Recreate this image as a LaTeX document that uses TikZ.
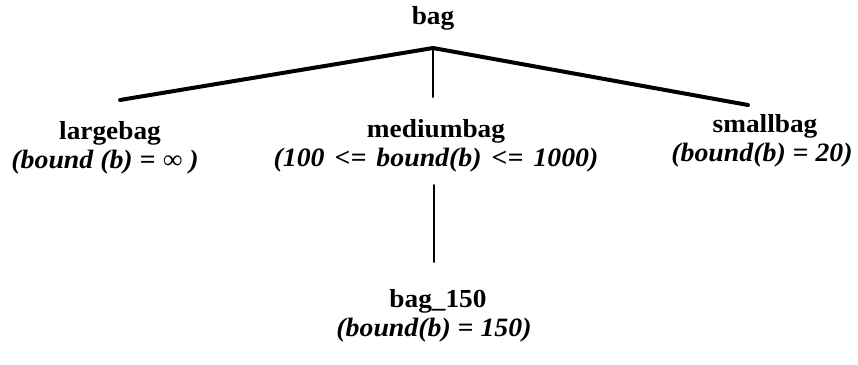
\documentclass[tikz,border=0pt]{standalone}
\usepackage{fontspec}
\setmainfont{Liberation Serif}[FakeStretch=1.05]
\begin{document}
\begin{tikzpicture}[x=1pt,y=-1pt,
  lbl/.style={font=\fontsize{26}{28}\selectfont\bfseries, anchor=base, inner sep=0pt},
  cons/.style={font=\fontsize{26.5}{28}\selectfont\bfseries\itshape, anchor=base, inner sep=0pt},
  thick edge/.style={line width=4pt, line cap=round},
  thin edge/.style={line width=2pt, line cap=round}]
\useasboundingbox (0,0) rectangle (858,364);
\node[lbl] (bag) at (433,24) {bag};
\node[lbl] (large) at (110,139) {largebag};
\node[cons] (largec) at (105,168) {(bound (b) = ∞ )};
\node[lbl] (medium) at (436,137) {mediumbag};
\node[cons] (mediumc) at (436,166) {(100\hspace{0.38em}<=\hspace{0.38em}bound(b)\hspace{0.38em}<=\hspace{0.38em}1000)};
\node[lbl] (small) at (765,132) {smallbag};
\node[cons] (smallc) at (762,161) {(bound(b) = 20)};
\node[lbl] (b150) at (438,307) {bag\_150};
\node[cons] (b150c) at (434,336) {(bound(b) = 150)};
\coordinate (J) at (433,48);
\coordinate (Lend) at (120,100);
\coordinate (Rend) at (748,105);
\coordinate (Mend) at (433,97);
\coordinate (Mtop) at (434,185);
\coordinate (Mbot) at (434,262);
\draw[thick edge] (J) -- (Lend);
\draw[thick edge] (J) -- (Rend);
\draw[thin edge] (J) -- (Mend);
\draw[thin edge] (Mtop) -- (Mbot);
\end{tikzpicture}
\end{document}
